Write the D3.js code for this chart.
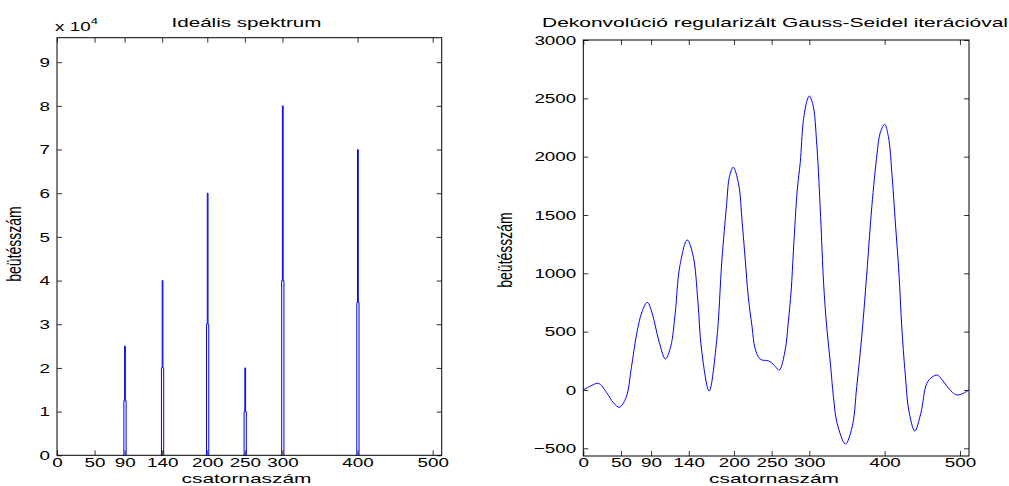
<!DOCTYPE html>
<html>
<head>
<meta charset="utf-8">
<script src="https://d3js.org/d3.v7.min.js"></script>
<style>
body { margin: 0; background: #fff; }
svg text { font-family: "Liberation Sans", Arial, sans-serif; fill: #000; }
.frame { fill: none; stroke: #000; stroke-width: 1; }
.tick line { stroke: #333; }
</style>
</head>
<body>
<div id="chart"></div>
<script>
// channel tick positions (both panels)
var xTicks = [0, 50, 90, 140, 200, 250, 300, 400, 500];

// left panel: ideal spectrum peaks
var peakChannels = [90, 140, 200, 250, 300, 400];
var peakHeights  = [25000, 40000, 60000, 20000, 80000, 70000];
var sideHeights  = [12500, 20000, 30000, 10000, 40000, 35000];
var leftYTicks = [0, 1, 2, 3, 4, 5, 6, 7, 8, 9];

// right panel: deconvolved spectrum
var deconvChannels = [0, 10, 20, 31, 40, 48, 57, 64, 71, 78, 85, 92, 100, 109, 116, 122, 128, 138, 146, 152,
  157, 167, 177, 184, 190, 194, 199, 206, 211, 215, 219, 224, 228, 235, 246, 253, 260, 268, 272, 276,
  279, 284, 288, 292, 297, 300, 305, 310, 315, 319, 323, 328, 332, 337, 348, 357, 363, 370, 377, 383,
  390, 394, 400, 405, 410, 414, 419, 423, 428, 432, 440, 448, 456, 463, 470, 476, 483, 490, 496, 504, 512];
var deconvCounts = [0, 35, 57, -23, -110, -148, -60, 200, 486, 671, 751, 643, 429, 266, 371, 657, 1057, 1286, 1143, 771,
  343, -9, 420, 1114, 1571, 1828, 1909, 1771, 1429, 1114, 800, 543, 357, 263, 249, 215, 171, 343, 571, 857,
  1200, 1714, 1950, 2300, 2480, 2520, 2440, 2100, 1486, 914, 550, 229, -57, -286, -463, -314, 29, 486, 1057, 1571,
  2029, 2200, 2277, 2171, 1828, 1457, 1000, 514, 86, -171, -351, -200, 57, 110, 128, 90, 29, -20, -43, -30, 0];
var rightYTicks = [-500, 0, 500, 1000, 1500, 2000, 2500, 3000];

var W = 1009, H = 486, SX = 1.45;

var svg = d3.select("#chart").append("svg")
  .attr("width", W)
  .attr("height", H);

svg.append("rect").attr("width", W).attr("height", H).attr("fill", "#fff");

function drawAxes(x, y, yTicks, yFmt) {
  var x0 = x.range()[0], x1 = x.range()[1], y0 = y.range()[0], y1 = y.range()[1];
  var g = svg.append("g");

  var bottom = g.append("g").attr("transform", "translate(0," + y0 + ")")
    .call(d3.axisBottom(x).tickValues(xTicks).tickSizeInner(-5).tickSizeOuter(0).tickPadding(2));
  var top = g.append("g").attr("transform", "translate(0," + y1 + ")")
    .call(d3.axisTop(x).tickValues(xTicks).tickSizeInner(-5).tickSizeOuter(0).tickFormat(""));
  var left = g.append("g").attr("transform", "translate(" + x0 + ",0)")
    .call(d3.axisLeft(y).tickValues(yTicks).tickSizeInner(-5).tickSizeOuter(0).tickPadding(0).tickFormat(yFmt));
  var right = g.append("g").attr("transform", "translate(" + x1 + ",0)")
    .call(d3.axisRight(y).tickValues(yTicks).tickSizeInner(-5).tickSizeOuter(0).tickFormat(""));

  g.selectAll(".domain").remove();
  g.selectAll("text").attr("font-size", 13).style("font-family", "Liberation Sans, Arial, sans-serif");
  bottom.selectAll("text").attr("transform", "scale(" + SX + ",1)");
  left.selectAll("text").attr("x", -7 / SX).attr("transform", "scale(" + SX + ",1)");

  g.append("rect").attr("class", "frame")
    .attr("x", x0).attr("y", y1)
    .attr("width", x1 - x0).attr("height", y0 - y1);
}

function label(txt, cx, cy, len, size) {
  svg.append("text")
    .attr("x", cx).attr("y", cy)
    .attr("text-anchor", "middle")
    .attr("font-size", size)
    .attr("textLength", len)
    .attr("lengthAdjust", "spacingAndGlyphs")
    .text(txt);
}

function yLabel(cx, cy) {
  svg.append("text")
    .attr("transform", "translate(" + cx + "," + cy + ") scale(1.4,1) rotate(-90)")
    .attr("text-anchor", "middle")
    .attr("font-size", 14)
    .text("beütésszám");
}

// ---- left panel
var xL = d3.scaleLinear().domain([0, 512]).range([57, 441.7]);
var yL = d3.scaleLinear().domain([0, 95600]).range([455.3, 37.7]);

var stairs = d3.line()
  .x(function(d) { return xL(d[0]); })
  .y(function(d) { return yL(d[1]); })
  .curve(d3.curveStepAfter);

svg.append("g").selectAll("path")
  .data(peakChannels)
  .enter().append("path")
  .attr("fill", "none")
  .attr("stroke", "#0000ff")
  .attr("stroke-width", 1)
  .attr("d", function(c, i) {
    return stairs([[c - 2, 0], [c - 1, sideHeights[i]], [c, peakHeights[i]], [c + 1, sideHeights[i]], [c + 2, 0]]);
  });

drawAxes(xL, yL, leftYTicks.map(function(k) { return k * 10000; }), function(v) { return v / 10000; });

label("Ideális spektrum", 246.5, 27, 150, 13);
label("csatornaszám", 246.5, 483, 130, 13);
yLabel(21, 244);

var mult = svg.append("text").attr("x", 55).attr("y", 31.5).attr("font-size", 13)
  .attr("transform", "translate(55,0) scale(" + SX + ",1) translate(-55,0)");
mult.append("tspan").text("x 10");
mult.append("tspan").attr("dy", -7).attr("font-size", 9).text("4");

// ---- right panel
var xR = d3.scaleLinear().domain([0, 512]).range([583.3, 969]);
var yR = d3.scaleLinear().domain([-566, 3000]).range([456, 40]);

var curve = d3.line()
  .x(function(d, i) { return xR(deconvChannels[i]); })
  .y(function(d) { return yR(d); })
  .curve(d3.curveCatmullRom.alpha(0.5));

svg.append("path")
  .datum(deconvCounts)
  .attr("fill", "none")
  .attr("stroke", "#0000ff")
  .attr("stroke-width", 1)
  .attr("d", curve);

drawAxes(xR, yR, rightYTicks, d3.format("d"));

label("Dekonvolúció regularizált Gauss-Seidel iterációval", 775, 27, 466, 13);
label("csatornaszám", 774, 483, 130, 13);
yLabel(512, 250);
</script>
</body>
</html>
